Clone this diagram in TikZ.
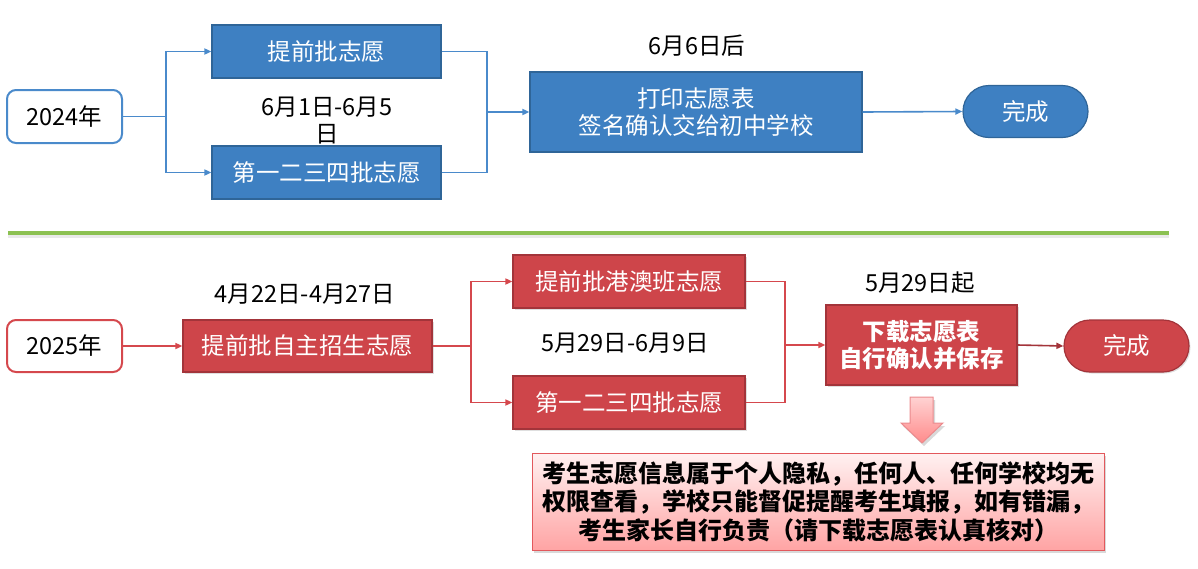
\documentclass[tikz,border=0pt]{standalone}
\usepackage{fontspec}
\setmainfont{Noto Sans CJK SC}
\usetikzlibrary{arrows.meta,shapes.misc,shadows}
\definecolor{blueF}{HTML}{3E80C2}
\definecolor{blueD}{HTML}{2F6598}
\definecolor{blueL}{HTML}{4A8ACB}
\definecolor{redF}{HTML}{CE454A}
\definecolor{redD}{HTML}{A3343A}
\definecolor{redL}{HTML}{D5484D}
\definecolor{greenL}{HTML}{8CC152}
\definecolor{noteTop}{HTML}{FFF1F1}
\definecolor{noteBot}{HTML}{FFA4A4}
\definecolor{noteD}{HTML}{E2585C}
\tikzset{
  boxfont/.style={font=\fontsize{23.5}{27}\selectfont},
  datefont/.style={font=\fontsize{23.5}{27}\selectfont, text=black, align=center},
  bluebox/.style={draw=blueD, fill=blueF, line width=1.2pt, text=white, boxfont, inner sep=0pt, align=center},
  redbox/.style={draw=redD, fill=redF, line width=1.2pt, text=white, boxfont, inner sep=0pt, align=center,
     drop shadow={opacity=0.25, shadow xshift=1.5pt, shadow yshift=-1.5pt}},
  yearbox/.style={rounded corners=9pt, fill=white, line width=2pt, text=black, boxfont, inner sep=0pt,
     minimum width=115pt, minimum height=53pt},
  endbox/.style={rounded rectangle, line width=1.2pt, text=white, boxfont, inner sep=0pt,
     minimum width=125pt, minimum height=52pt},
  bconn/.style={draw=blueL, line width=1.6pt},
  rconn/.style={draw=redL, line width=1.6pt},
  tip/.style={-{Triangle[length=7pt,width=6pt]}},
}
\begin{document}
\begin{tikzpicture}[x=1pt,y=-1pt]
\useasboundingbox (0,0) rectangle (1198,568);
% ---------- 2024 ----------
\node[yearbox, draw=blueL] (y24) at (64.5,116.5) {2024年};
\node[bluebox, minimum width=229pt, minimum height=53pt] (tq) at (326.5,51.5) {提前批志愿};
\node[bluebox, minimum width=229pt, minimum height=53pt] (d1) at (326.5,172.5) {第一二三四批志愿};
\node[datefont] (t1) at (327,121) {6月1日-6月5\\日};
\node[bluebox, minimum width=332pt, minimum height=80pt] (pr) at (696,112) {打印志愿表\\签名确认交给初中学校};
\node[datefont] (t2) at (697,46) {6月6日后};
\node[endbox, draw=blueD, fill=blueF] (e1) at (1025.5,111.5) {完成};
\coordinate (f1) at (166,116.5);
\coordinate (j1) at (487,112);
\draw[bconn] (y24.east) -- (f1);
\draw[bconn, tip] (f1) |- (tq.west);
\draw[bconn, tip] (f1) |- (d1.west);
\draw[bconn] (tq.east) -| (j1);
\draw[bconn] (d1.east) -| (j1);
\draw[bconn, tip] (j1) -- (pr.west);
\draw[bconn, tip] (pr.east) -- (e1.west);
% ---------- separator ----------
\coordinate (s1) at (8,233);
\coordinate (s2) at (1169,233);
\draw[line width=5pt, draw=black!25, opacity=0.35] ([yshift=-2pt]s1) -- ([yshift=-2pt]s2);
\draw[line width=4.5pt, draw=greenL] (s1) -- (s2);
% ---------- 2025 ----------
\node[yearbox, draw=redL, minimum height=52pt] (y25) at (64.5,346) {2025年};
\node[redbox, minimum width=249pt, minimum height=52pt] (zz) at (307.5,346) {提前批自主招生志愿};
\node[datefont] (t3) at (305,294) {4月22日-4月27日};
\node[redbox, minimum width=232pt, minimum height=53pt] (gh) at (629,281.5) {提前批港澳班志愿};
\node[redbox, minimum width=232pt, minimum height=53pt] (d2) at (629,402.5) {第一二三四批志愿};
\node[datefont] (t4) at (625,343) {5月29日-6月9日};
\node[redbox, minimum width=191pt, minimum height=80pt, font=\fontsize{23.5}{27}\selectfont\bfseries] (dl) at (921.5,345) {下载志愿表\\自行确认并保存};
\node[datefont] (t5) at (920,283) {5月29日起};
\node[endbox, draw=redD, fill=redF, drop shadow={opacity=0.25, shadow xshift=1.5pt, shadow yshift=-1.5pt}] (e2) at (1126.5,346) {完成};
\coordinate (f2) at (471,346);
\coordinate (j2) at (785,345);
\draw[rconn, tip] (y25.east) -- (zz.west);
\draw[rconn] (zz.east) -- (f2);
\draw[rconn, tip] (f2) |- (gh.west);
\draw[rconn, tip] (f2) |- (d2.west);
\draw[rconn] (gh.east) -| (j2);
\draw[rconn] (d2.east) -| (j2);
\draw[rconn, tip] (j2) -- (dl.west);
\draw[draw=redD, line width=1.6pt, tip] (dl.east) -- (e2.west);
% down arrow
\fill[black, opacity=0.15] (912,400) -- (935,400) -- (935,426) -- (945,426) -- (924,446) -- (903,426) -- (912,426) -- cycle;
\draw[draw=noteD!70, line width=1pt, top color=noteTop!60!noteBot, bottom color=noteBot!85!red]
  (910,397) -- (933,397) -- (933,423) -- (943,423) -- (922,443) -- (901,423) -- (910,423) -- cycle;
% note
\node[draw=noteD, line width=1pt, top color=noteTop, bottom color=noteBot, minimum width=572pt, minimum height=97pt,
  inner sep=0pt, align=center, text=black, font=\fontsize{24}{28.5}\selectfont\bfseries,
  drop shadow={opacity=0.3, shadow xshift=2pt, shadow yshift=-3pt}] (note) at (818,501.5)
  {考生志愿信息属于个人隐私，任何人、任何学校均无\\权限查看，学校只能督促提醒考生填报，如有错漏，\\考生家长自行负责（请下载志愿表认真核对）};
\end{tikzpicture}
\end{document}
